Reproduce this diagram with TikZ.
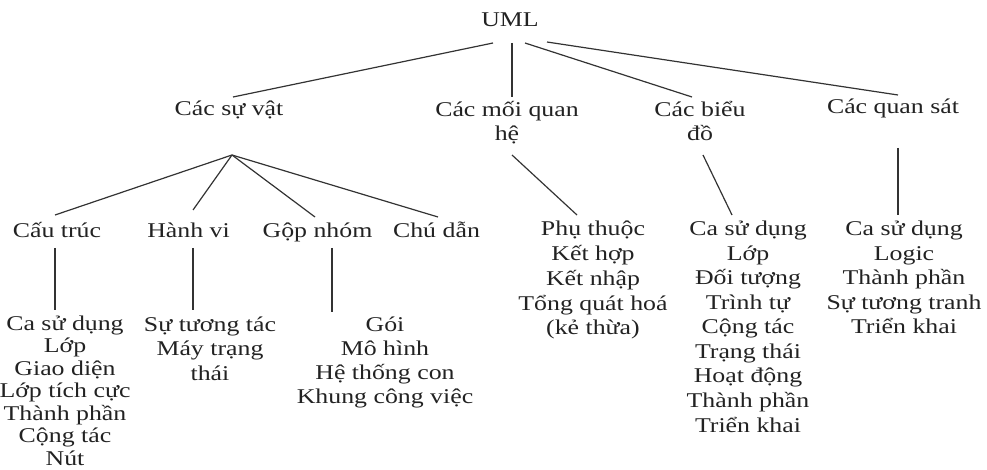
\documentclass[tikz,border=0pt]{standalone}
\usepackage{fontspec}
\setmainfont[FakeStretch=1.23]{Liberation Serif}
\usetikzlibrary{calc}
\definecolor{txt}{HTML}{222222}
\definecolor{ln}{HTML}{333333}
\newcommand\stk[2][24.5pt]{\vtop{\baselineskip=#1\lineskiplimit=-50pt\relax\halign{\hfil##\hfil\cr#2\crcr}}}
\tikzset{
  lbl/.style={anchor=base, inner sep=0pt, text=txt, font=\fontsize{21}{24.5}\selectfont},
  conn/.style={draw=ln, line width=1.2pt}
}
\begin{document}
\begin{tikzpicture}[x=1pt,y=-1pt]
\useasboundingbox (0,0) rectangle (987,470);
% level 0
\node[lbl] (uml) at (510,27) {UML};
% level 1
\node[lbl] (things) at (229,116) {Các sự vật};
\node[lbl] (rel) at (507,117) {\stk[24pt]{Các mối quan\cr hệ}};
\node[lbl] (diag) at (700,117) {\stk[24pt]{Các biểu\cr đồ}};
\node[lbl] (views) at (893,114) {Các quan sát};
% level 2
\node[lbl] (struct) at (57,238) {Cấu trúc};
\node[lbl] (behav) at (188.5,238) {Hành vi};
\node[lbl] (group) at (317.5,238) {Gộp nhóm};
\node[lbl] (annot) at (436.5,238) {Chú dẫn};
% leaves
\node[lbl] (structL) at (65,330) {\stk[22.5pt]{Ca sử dụng\cr Lớp\cr Giao diện\cr Lớp tích cực\cr Thành phần\cr Cộng tác\cr Nút}};
\node[lbl] (behavL) at (210,331) {\stk[24.5pt]{Sự tương tác\cr Máy trạng\cr thái}};
\node[lbl] (groupL) at (385,331) {\stk[24pt]{Gói\cr Mô hình\cr Hệ thống con\cr Khung công việc}};
\node[lbl] (relL) at (593,236) {\stk[24.75pt]{Phụ thuộc\cr Kết hợp\cr Kết nhập\cr Tổng quát hoá\cr (kẻ thừa)}};
\node[lbl] (diagL) at (748,236) {\stk[24.5pt]{Ca sử dụng\cr Lớp\cr Đối tượng\cr Trình tự\cr Cộng tác\cr Trạng thái\cr Hoạt động\cr Thành phần\cr Triển khai}};
\node[lbl] (viewsL) at (904,236) {\stk[24.5pt]{Ca sử dụng\cr Logic\cr Thành phần\cr Sự tương tranh\cr Triển khai}};
% connectors from UML
\draw[conn] ($(uml.base)+(-17,16)$) -- ($(things.base)+(4,-19)$);
\draw[conn] ($(uml.base)+(2,16)$) -- ($(rel.base)+(5,-20)$);
\draw[conn] ($(uml.base)+(15,16)$) -- ($(diag.base)+(-8,-20)$);
\draw[conn] ($(uml.base)+(37,15)$) -- ($(views.base)+(5,-19)$);
% connectors from Cac su vat
\draw[conn] ($(things.base)+(3,39)$) -- ($(struct.base)+(-2,-23)$);
\draw[conn] ($(things.base)+(3,39)$) -- ($(behav.base)+(4.5,-28)$);
\draw[conn] ($(things.base)+(3,39)$) -- ($(group.base)+(-2.5,-21)$);
\draw[conn] ($(things.base)+(3,39)$) -- ($(annot.base)+(1.5,-21)$);
% other level-1 to leaves
\draw[conn] ($(rel.base)+(5,38)$) -- ($(relL.base)+(-16,-21)$);
\draw[conn] ($(diag.base)+(3,38)$) -- ($(diagL.base)+(-16,-21)$);
\draw[conn] ($(views.base)+(5,34)$) -- ($(viewsL.base)+(-6,-21)$);
% level-2 to leaves
\draw[conn] ($(struct.base)+(-2,10)$) -- ($(structL.base)+(-10,-20)$);
\draw[conn] ($(behav.base)+(4.5,10)$) -- ($(behavL.base)+(-17,-21)$);
\draw[conn] ($(group.base)+(14.5,10)$) -- ($(groupL.base)+(-53,-19)$);
\end{tikzpicture}
\end{document}
